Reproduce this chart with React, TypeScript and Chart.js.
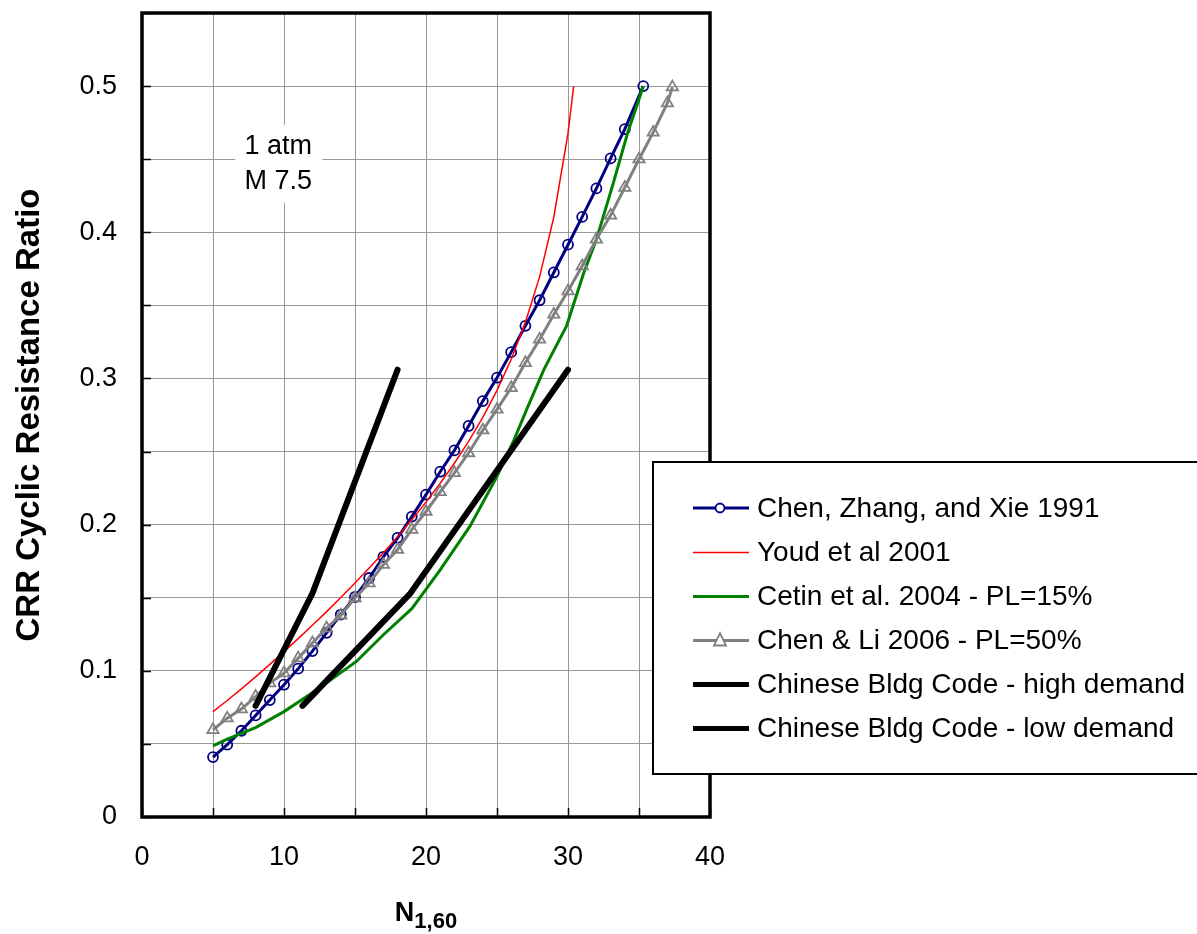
import React, { useEffect, useRef } from 'react';
import { Chart, registerables } from 'chart.js';

Chart.register(...registerables);

// ---------- data ----------
const chenZhangXieN = [5, 6, 7, 8, 9, 10, 11, 12, 13, 14, 15, 16, 17, 18, 19, 20, 21, 22, 23, 24, 25, 26, 27, 28, 29, 30, 31, 32, 33, 34, 35.3];
const chenZhangXieCRR = [0.041, 0.0495, 0.059, 0.0695, 0.08, 0.0905, 0.1015, 0.1135, 0.126, 0.1385, 0.1505, 0.1635, 0.178, 0.191, 0.2055, 0.2205, 0.2362, 0.2508, 0.2675, 0.2845, 0.3005, 0.318, 0.336, 0.3535, 0.3725, 0.3915, 0.4105, 0.43, 0.4505, 0.4705, 0.5];

const youdN = [5, 6, 7, 8, 9, 10, 11, 12, 13, 14, 15, 16, 17, 18, 19, 20, 21, 22, 23, 24, 25, 26, 27, 28, 29, 30, 30.4];
const youdCRR = [0.0721, 0.0797, 0.0877, 0.0959, 0.1044, 0.1131, 0.122, 0.1312, 0.1405, 0.1502, 0.1601, 0.1703, 0.1808, 0.1918, 0.2033, 0.2154, 0.2283, 0.242, 0.2569, 0.2734, 0.2919, 0.3131, 0.3384, 0.3695, 0.4103, 0.4676, 0.5];

const cetinN = [5, 6, 8, 10, 11.6, 13.3, 15.1, 17, 19, 21, 23.1, 25, 26.2, 27.1, 28.3, 29.9, 31.1, 32, 33.2, 34.2, 35, 35.3];
const cetinCRR = [0.0486, 0.0532, 0.0612, 0.0721, 0.0824, 0.0938, 0.1064, 0.1247, 0.1425, 0.169, 0.199, 0.233, 0.258, 0.279, 0.306, 0.336, 0.372, 0.395, 0.434, 0.468, 0.491, 0.5];

const chenLiN = [5, 6, 7, 8, 9, 10, 11, 12, 13, 14, 15, 16, 17, 18, 19, 20, 21, 22, 23, 24, 25, 26, 27, 28, 29, 30, 31, 32, 33, 34, 35, 36, 37, 37.35];
const chenLiCRR = [0.0596, 0.0676, 0.0738, 0.0824, 0.0916, 0.0984, 0.1087, 0.119, 0.1292, 0.138, 0.1498, 0.16, 0.1726, 0.183, 0.1966, 0.209, 0.2224, 0.2354, 0.249, 0.2646, 0.2788, 0.2936, 0.3107, 0.3267, 0.3438, 0.3598, 0.3769, 0.3952, 0.4116, 0.4306, 0.45, 0.4683, 0.4884, 0.4993];

const codeHighN = [8, 12, 18];
const codeHighCRR = [0.076, 0.153, 0.306];

const codeLowN = [11.3, 18.9, 30];
const codeLowCRR = [0.076, 0.153, 0.306];

const seriesLabels = [
  'Chen, Zhang, and Xie 1991',
  'Youd et al 2001',
  'Cetin et al. 2004 - PL=15%',
  'Chen & Li 2006 - PL=50%',
  'Chinese Bldg Code - high demand',
  'Chinese Bldg Code - low demand',
];

const annotationLines = ['1 atm', 'M 7.5'];
const xTitleMain = 'N';
const xTitleSub = '1,60';
const yTitle = 'CRR Cyclic Resistance Ratio';

const FONT = '"Liberation Sans", Arial, Helvetica, sans-serif';

const pts = (xs: number[], ys: number[]) => xs.map((x, i) => ({ x, y: ys[i] }));

const overlayPlugin = {
  id: 'overlay',
  beforeDatasetsDraw(chart: any) {
    const ctx = chart.ctx;
    const xs = chart.scales.x;
    const ys = chart.scales.y;
    const cx = xs.getPixelForValue(9.6);
    const l1 = ys.getPixelForValue(0.4585);
    const l2 = ys.getPixelForValue(0.4346);
    ctx.save();
    ctx.fillStyle = '#ffffff';
    ctx.fillRect(cx - 43, l1 - 22, 87, 78);
    ctx.fillStyle = '#000000';
    ctx.font = `27px ${FONT}`;
    ctx.textAlign = 'center';
    ctx.textBaseline = 'middle';
    ctx.fillText(annotationLines[0], cx, l1);
    ctx.fillText(annotationLines[1], cx, l2);
    ctx.restore();
  },
  afterDraw(chart: any) {
    const ctx = chart.ctx;
    const a = chart.chartArea;
    const xs = chart.scales.x;
    const ys = chart.scales.y;
    ctx.save();
    // inner tick marks
    ctx.strokeStyle = '#000';
    ctx.lineWidth = 1.5;
    ctx.beginPath();
    ys.ticks.forEach((t: any) => {
      const py = Math.round(ys.getPixelForValue(t.value)) + 0.5;
      ctx.moveTo(a.left, py);
      ctx.lineTo(a.left + 9, py);
    });
    xs.ticks.forEach((t: any) => {
      const px = Math.round(xs.getPixelForValue(t.value)) + 0.5;
      ctx.moveTo(px, a.bottom);
      ctx.lineTo(px, a.bottom - 9);
    });
    ctx.stroke();
    // plot border
    ctx.lineWidth = 3.5;
    ctx.strokeRect(a.left, a.top, a.right - a.left, a.bottom - a.top);

    // legend
    const lx = 653, ly = 462, lw = 620, lh = 312;
    ctx.fillStyle = '#fff';
    ctx.fillRect(lx, ly, lw, lh);
    ctx.lineWidth = 2;
    ctx.strokeStyle = '#000';
    ctx.strokeRect(lx, ly, lw, lh);
    const rows = [508, 552.5, 596.5, 640.5, 684.5, 728.5];
    chart.data.datasets.forEach((ds: any, i: number) => {
      const y = rows[i];
      ctx.strokeStyle = ds.borderColor;
      ctx.lineWidth = ds.legendLineWidth;
      ctx.lineCap = 'butt';
      ctx.beginPath();
      ctx.moveTo(693, y);
      ctx.lineTo(749, y);
      ctx.stroke();
      if (ds.pointStyle === 'circle' && ds.pointRadius > 0) {
        ctx.fillStyle = '#fff';
        ctx.lineWidth = 1.8;
        ctx.beginPath();
        ctx.arc(720, y, 4.5, 0, Math.PI * 2);
        ctx.fill();
        ctx.stroke();
      } else if (ds.pointStyle === 'triangle' && ds.pointRadius > 0) {
        ctx.fillStyle = '#fff';
        ctx.lineWidth = 1.8;
        ctx.beginPath();
        ctx.moveTo(720, y - 7.5);
        ctx.lineTo(726, y + 5);
        ctx.lineTo(714, y + 5);
        ctx.closePath();
        ctx.fill();
        ctx.stroke();
      }
      ctx.fillStyle = '#000';
      ctx.font = `28px ${FONT}`;
      ctx.textAlign = 'left';
      ctx.textBaseline = 'middle';
      ctx.fillText(ds.label, 757, y + 1);
    });

    // axis titles
    ctx.fillStyle = '#000';
    ctx.save();
    ctx.translate(30, (a.top + a.bottom) / 2);
    ctx.rotate(-Math.PI / 2);
    ctx.font = `bold 33px ${FONT}`;
    ctx.textAlign = 'center';
    ctx.textBaseline = 'middle';
    ctx.fillText(yTitle, 0, 0);
    ctx.restore();

    ctx.font = `bold 27px ${FONT}`;
    const wMain = ctx.measureText(xTitleMain).width;
    ctx.font = `bold 22px ${FONT}`;
    const wSub = ctx.measureText(xTitleSub).width;
    const startX = (a.left + a.right) / 2 - (wMain + wSub) / 2;
    ctx.textAlign = 'left';
    ctx.textBaseline = 'alphabetic';
    ctx.font = `bold 27px ${FONT}`;
    ctx.fillText(xTitleMain, startX, 920.5);
    ctx.font = `bold 22px ${FONT}`;
    ctx.fillText(xTitleSub, startX + wMain, 928);
    ctx.restore();
  },
};

export default function App() {
  const ref = useRef<HTMLCanvasElement>(null);

  useEffect(() => {
    const canvas = ref.current;
    if (!canvas) return;
    Chart.defaults.font.family = FONT;
    const chart = new Chart(canvas, {
      type: 'scatter',
      data: {
        datasets: [
          {
            label: seriesLabels[0],
            data: pts(chenZhangXieN, chenZhangXieCRR),
            showLine: true,
            borderColor: '#000080',
            borderWidth: 3,
            pointStyle: 'circle',
            pointRadius: 5,
            pointBorderWidth: 1.8,
            pointBorderColor: '#000080',
            pointBackgroundColor: 'rgba(255,255,255,0)',
            order: 6,
            legendLineWidth: 3,
          } as any,
          {
            label: seriesLabels[1],
            data: pts(youdN, youdCRR),
            showLine: true,
            borderColor: '#ff0000',
            borderWidth: 1.5,
            pointRadius: 0,
            pointStyle: false,
            order: 5,
            legendLineWidth: 1.5,
          } as any,
          {
            label: seriesLabels[2],
            data: pts(cetinN, cetinCRR),
            showLine: true,
            borderColor: '#008000',
            borderWidth: 3,
            pointRadius: 0,
            pointStyle: false,
            order: 4,
            legendLineWidth: 3,
          } as any,
          {
            label: seriesLabels[3],
            data: pts(chenLiN, chenLiCRR),
            showLine: true,
            borderColor: '#808080',
            borderWidth: 3,
            pointStyle: 'triangle',
            pointRadius: 6.5,
            pointBorderWidth: 1.8,
            pointBorderColor: '#808080',
            pointBackgroundColor: 'rgba(255,255,255,0)',
            order: 3,
            legendLineWidth: 3,
          } as any,
          {
            label: seriesLabels[4],
            data: pts(codeHighN, codeHighCRR),
            showLine: true,
            borderColor: '#000000',
            borderWidth: 6,
            borderCapStyle: 'round',
            borderJoinStyle: 'round',
            pointRadius: 0,
            pointStyle: false,
            order: 2,
            legendLineWidth: 5,
          } as any,
          {
            label: seriesLabels[5],
            data: pts(codeLowN, codeLowCRR),
            showLine: true,
            borderColor: '#000000',
            borderWidth: 6,
            borderCapStyle: 'round',
            borderJoinStyle: 'round',
            pointRadius: 0,
            pointStyle: false,
            order: 1,
            legendLineWidth: 5,
          } as any,
        ],
      },
      options: {
        responsive: false,
        animation: false,
        devicePixelRatio: 1,
        layout: { padding: { left: 0, top: 13, right: 487, bottom: 0 } },
        plugins: {
          legend: { display: false },
          tooltip: { enabled: false },
        },
        elements: { line: { tension: 0 } },
        scales: {
          x: {
            type: 'linear',
            min: 0,
            max: 40,
            afterFit: (s: any) => {
              s.height = 117;
              s.paddingLeft = 0;
              s.paddingRight = 0;
            },
            ticks: {
              stepSize: 5,
              padding: 24,
              color: '#000',
              font: { size: 27, family: FONT },
              maxRotation: 0,
              autoSkip: false,
              callback: (v: any) => (Math.round(Number(v)) % 10 === 0 ? String(Math.round(Number(v))) : ''),
            },
            grid: { color: '#999999', lineWidth: 1, drawTicks: false },
            border: { display: false },
          },
          y: {
            type: 'linear',
            min: 0,
            max: 0.55,
            afterFit: (s: any) => {
              s.width = 142;
              s.paddingTop = 0;
              s.paddingBottom = 0;
            },
            ticks: {
              stepSize: 0.05,
              padding: 25,
              color: '#000',
              font: { size: 27, family: FONT },
              autoSkip: false,
              callback: (v: any) => {
                const n = Number(v) * 10;
                return Math.abs(n - Math.round(n)) < 1e-6 ? String(Math.round(n) / 10) : '';
              },
            },
            grid: { color: '#999999', lineWidth: 1, drawTicks: false },
            border: { display: false },
          },
        },
      },
      plugins: [overlayPlugin],
    } as any);
    return () => chart.destroy();
  }, []);

  return (
    <div style={{ position: 'fixed', left: 0, top: 0, width: 1197, height: 934, background: '#fff' }}>
      <canvas ref={ref} width={1197} height={934} style={{ display: 'block', width: 1197, height: 934 }} />
    </div>
  );
}
